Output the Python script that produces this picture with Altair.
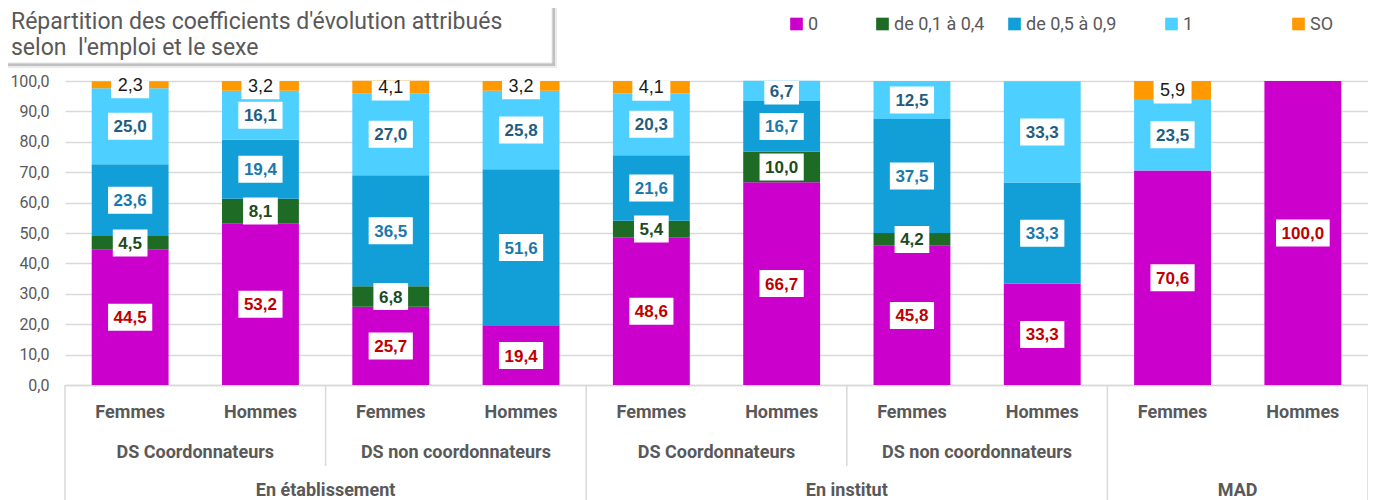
import altair as alt
import pandas as pd

# ---------------- data ----------------
sexes = ["Femmes", "Hommes", "Femmes", "Hommes", "Femmes", "Hommes",
         "Femmes", "Hommes", "Femmes", "Hommes"]
fonctions = ["DS Coordonnateurs", "DS Coordonnateurs",
             "DS non coordonnateurs", "DS non coordonnateurs",
             "DS Coordonnateurs", "DS Coordonnateurs",
             "DS non coordonnateurs", "DS non coordonnateurs",
             "", ""]
emplois = ["En établissement"] * 4 + ["En institut"] * 4 + ["MAD"] * 2

series_names = ["0", "de 0,1 à 0,4", "de 0,5 à 0,9", "1", "SO"]
coef_0 = [44.5, 53.2, 25.7, 19.4, 48.6, 66.7, 45.8, 33.3, 70.6, 100.0]
coef_01_04 = [4.5, 8.1, 6.8, 0.0, 5.4, 10.0, 4.2, 0.0, 0.0, 0.0]
coef_05_09 = [23.6, 19.4, 36.5, 51.6, 21.6, 16.7, 37.5, 33.3, 0.0, 0.0]
coef_1 = [25.0, 16.1, 27.0, 25.8, 20.3, 6.7, 12.5, 33.3, 23.5, 0.0]
coef_so = [2.3, 3.2, 4.1, 3.2, 4.1, 0.0, 0.0, 0.0, 5.9, 0.0]
series_values = [coef_0, coef_01_04, coef_05_09, coef_1, coef_so]

y_ticks = [0, 10, 20, 30, 40, 50, 60, 70, 80, 90, 100]

title_lines = ["Répartition des coefficients d'évolution attribués",
               "selon \u00a0l'emploi et le sexe"]

# ---------------- styles ----------------
series_colors = ["#CC00CC", "#1D6B24", "#129FD7", "#4DD0FF", "#FF9900"]
label_colors = ["#C00000", "#1E4A1E", "#1B78AC", "#1F5E82", "#1A1A1A"]
legend_px = [725, 811, 943, 1100, 1227]   # legend symbol left edges (plot coords)
GREY = "#595959"
LINE = "#D9D9D9"
FONT = "Roboto"

W, H = 1303, 304
UX = W / 10.0
UY = H / 100.0

# ---------------- tables ----------------
rows = []
for i in range(len(sexes)):
    cum = 0.0
    for k, name in enumerate(series_names):
        v = series_values[k][i]
        rows.append(dict(idx=i, sexe=sexes[i], fonction=fonctions[i], emploi=emplois[i],
                         series=name, order=k, value=v, y0=cum, y1=cum + v))
        cum += v
df = pd.DataFrame(rows)

cat_df = pd.DataFrame(dict(idx=list(range(len(sexes))), sexe=sexes,
                           fonction=fonctions, emploi=emplois))

fon_df = (cat_df[cat_df.fonction != ""]
          .assign(key=lambda d: d.emploi + "|" + d.fonction)
          .groupby("key", sort=False)
          .agg(fonction=("fonction", "first"), lo=("idx", "min"), hi=("idx", "max"))
          .reset_index())
emp_df = (cat_df.groupby("emploi", sort=False)
          .agg(lo=("idx", "min"), hi=("idx", "max")).reset_index())

sep_rows = [dict(pos=0, kind="full"), dict(pos=len(sexes), kind="full")]
for i in range(1, len(sexes)):
    if emplois[i] != emplois[i - 1]:
        sep_rows.append(dict(pos=i, kind="full"))
    elif fonctions[i] != fonctions[i - 1]:
        sep_rows.append(dict(pos=i, kind="short"))
sep_df = pd.DataFrame(sep_rows)

xs = alt.Scale(domain=[0, 10], nice=False, zero=False)
ys = alt.Scale(domain=[0, 100], nice=False, zero=True)

label_expr = "replace(format(datum.value, '.1f'), '.', ',')"
color_expr = " : ".join(
    f"datum.series == '{s}' ? '{c}'" for s, c in zip(series_names, label_colors)
) + " : 'black'"

X_AXIS = alt.Axis(labels=False, ticks=False, grid=False, title=None,
                  domainColor=LINE, domainWidth=1.5)
Y_AXIS = alt.Axis(values=y_ticks, labelExpr=label_expr, tickCount=11,
                  title=None, domain=False, ticks=False, labelPadding=16,
                  labelOverlap=False, labelFont=FONT, labelFontSize=16,
                  labelColor=GREY, gridColor=LINE, gridWidth=1.5)


def X(f):
    return alt.X(f, scale=xs, axis=X_AXIS)


def Y(f):
    return alt.Y(f, scale=ys, axis=Y_AXIS)


base = alt.Chart(df)

bars = base.transform_filter("datum.value > 0").transform_calculate(
    bx0="datum.idx + 0.205", bx1="datum.idx + 0.795"
).mark_rect().encode(
    x=X("bx0:Q"), x2="bx1:Q", y=Y("y0:Q"), y2="y1:Q",
    color=alt.Color("series:N",
                    scale=alt.Scale(domain=series_names, range=series_colors),
                    legend=None),
)

lab = base.transform_filter("datum.value > 0").transform_calculate(
    label=label_expr,
    xm="datum.idx + 0.5",
    ym="(datum.y0 + datum.y1) / 2",
    tcol=color_expr,
)

boxes = lab.transform_calculate(
    hw=f"(datum.series == 'SO' ? 38 : (9.5 * (length(datum.label) - 1) + 4.7 + 11)) / 2 / {UX}",
    hh=f"13.5 / {UY}",
).transform_calculate(
    lx0="datum.xm - datum.hw", lx1="datum.xm + datum.hw",
    ly0="datum.ym - datum.hh", ly1="datum.ym + datum.hh",
).mark_rect(fill="white", clip=True).encode(
    x=X("lx0:Q"), x2="lx1:Q", y=Y("ly0:Q"), y2="ly1:Q"
)

txt_main = lab.transform_filter("datum.series != 'SO'").mark_text(
    font="Liberation Sans", fontSize=17, fontWeight="bold", baseline="middle", dy=1
).encode(x=X("xm:Q"), y=Y("ym:Q"), text="label:N", color=alt.Color("tcol:N", scale=None))

txt_so = lab.transform_filter("datum.series == 'SO'").mark_text(
    font="Liberation Sans", fontSize=18, baseline="middle", dy=1
).encode(x=X("xm:Q"), y=Y("ym:Q"), text="label:N", color=alt.Color("tcol:N", scale=None))

# category axis (three rows)
sex_txt = alt.Chart(cat_df).transform_calculate(xm="datum.idx + 0.5").mark_text(
    font=FONT, fontSize=18, fontWeight="bold", color=GREY, baseline="middle"
).encode(x=X("xm:Q"), y=alt.value(H + 28), text="sexe:N")

fon_txt = alt.Chart(fon_df).transform_calculate(xm="(datum.lo + datum.hi + 1) / 2").mark_text(
    font=FONT, fontSize=18, fontWeight="bold", color=GREY, baseline="middle"
).encode(x=X("xm:Q"), y=alt.value(H + 68), text="fonction:N")

emp_txt = alt.Chart(emp_df).transform_calculate(xm="(datum.lo + datum.hi + 1) / 2").mark_text(
    font=FONT, fontSize=18, fontWeight="bold", color=GREY, baseline="middle"
).encode(x=X("xm:Q"), y=alt.value(H + 106), text="emploi:N")

sep_full = alt.Chart(sep_df).transform_filter("datum.kind == 'full'").mark_rule(
    color=LINE, strokeWidth=1.5
).encode(x=X("pos:Q"), y=alt.value(H), y2=alt.value(H + 125))

sep_short = alt.Chart(sep_df).transform_filter("datum.kind == 'short'").mark_rule(
    color=LINE, strokeWidth=1.5
).encode(x=X("pos:Q"), y=alt.value(H), y2=alt.value(H + 81))

# legend (drawn by hand, positions match the original layout)
one = pd.DataFrame({"k": [0]})
legend_layers = []
for name, col, px in zip(series_names, series_colors, legend_px):
    legend_layers.append(
        alt.Chart(one).mark_point(shape="square", filled=True, size=160, color=col, opacity=1)
        .encode(x=alt.value(px + 6.5), y=alt.value(-57))
    )
    legend_layers.append(
        alt.Chart(one).mark_text(font=FONT, fontSize=18, color=GREY, align="left", baseline="middle")
        .encode(x=alt.value(px + 18), y=alt.value(-56), text=alt.value(name))
    )

# title box with shadow
shadow2 = alt.Chart(one).mark_rect(color="#000000", opacity=0.08).encode(
    x=alt.value(-58), x2=alt.value(492), y=alt.value(-90), y2=alt.value(-13))
shadow1 = alt.Chart(one).mark_rect(color="#000000", opacity=0.18).encode(
    x=alt.value(-59), x2=alt.value(490), y=alt.value(-90), y2=alt.value(-15))
tbox = alt.Chart(one).mark_rect(color="white", stroke="#E6E6E6", strokeWidth=1).encode(
    x=alt.value(-61), x2=alt.value(487), y=alt.value(-92), y2=alt.value(-18))
t1 = alt.Chart(one).mark_text(
    font=FONT, fontSize=23, color=GREY, align="left", baseline="middle"
).encode(x=alt.value(-54), y=alt.value(-59), text=alt.value(title_lines[0]))
t2 = alt.Chart(one).mark_text(
    font=FONT, fontSize=23, color=GREY, align="left", baseline="middle"
).encode(x=alt.value(-54), y=alt.value(-33), text=alt.value(title_lines[1]))

chart = alt.layer(
    bars, boxes, txt_main, txt_so, sep_full, sep_short, sex_txt, fon_txt, emp_txt,
    *legend_layers, shadow2, shadow1, tbox, t1, t2
).properties(
    width=W, height=H,
    autosize=alt.AutoSizeParams(type="none"),
    padding={"left": 57, "top": 73, "right": 0, "bottom": 125},
    background="white",
).configure_view(stroke=None)

chart.save("out.html", embed_options={"renderer": "svg", "actions": False})
